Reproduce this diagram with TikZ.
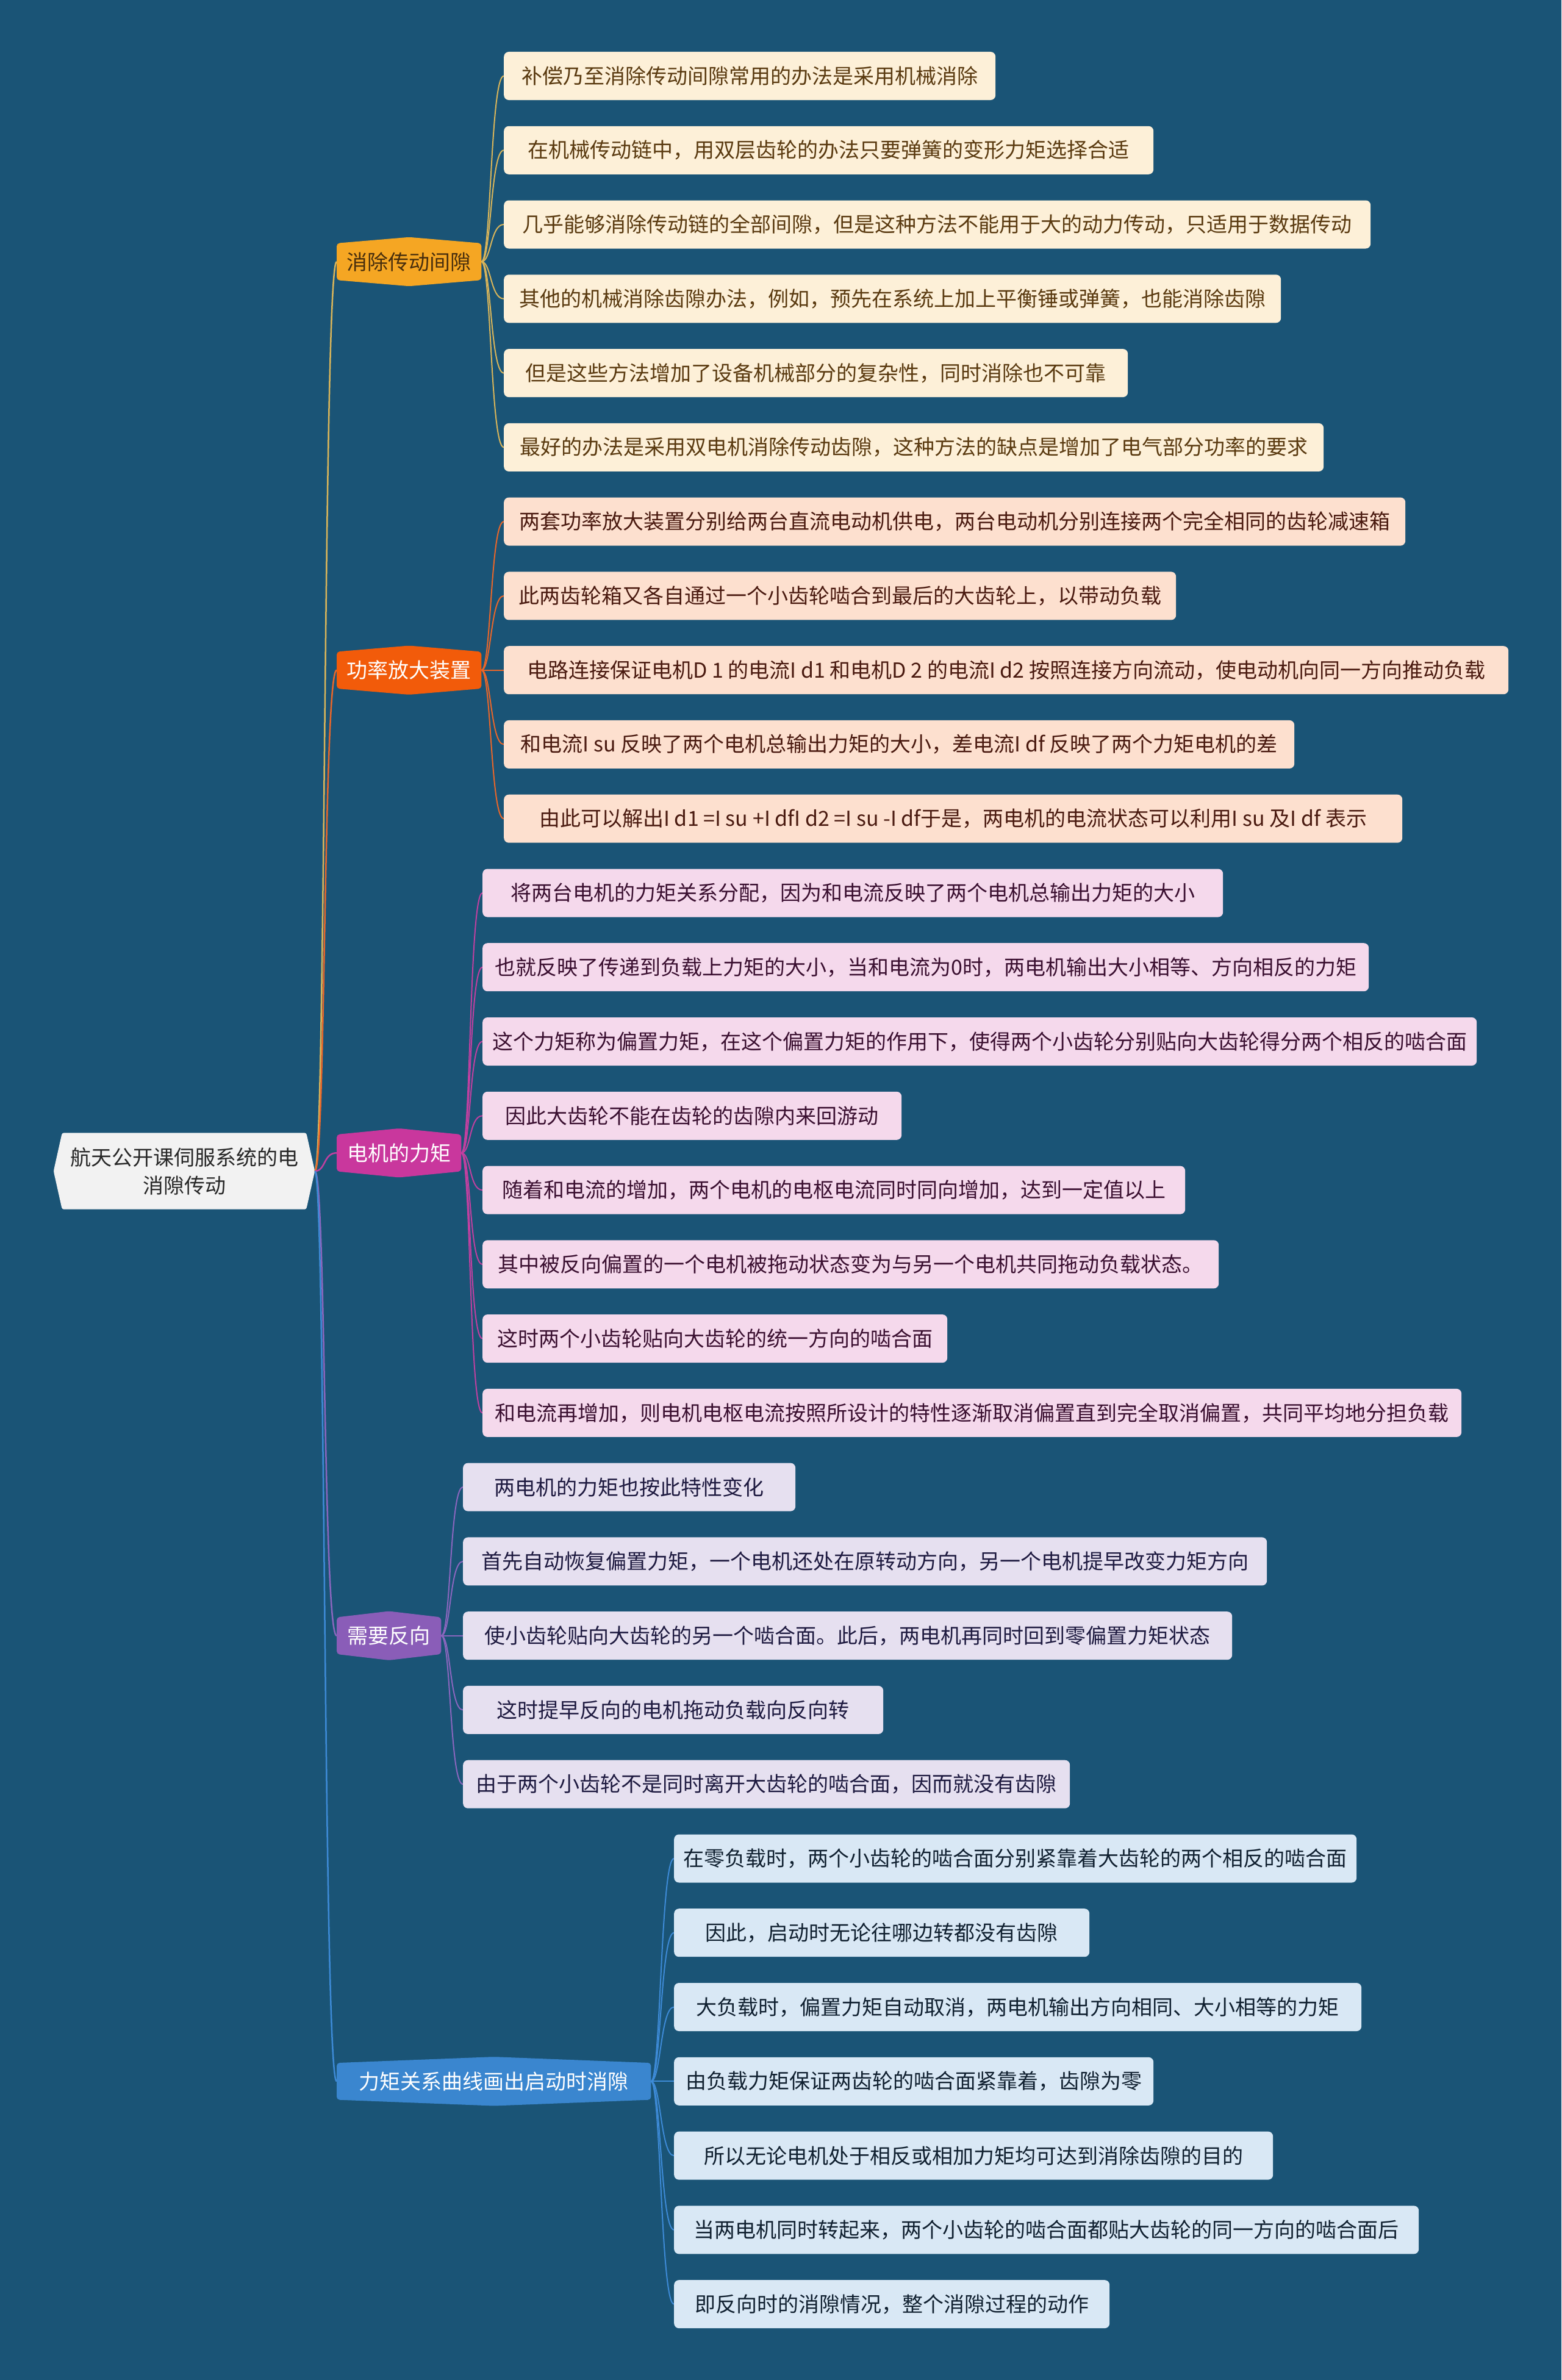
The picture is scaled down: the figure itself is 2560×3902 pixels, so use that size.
\documentclass[tikz,border=0pt]{standalone}
\usepackage{fontspec}
\setmainfont{Noto Sans CJK SC}
\usetikzlibrary{backgrounds}
\definecolor{bgc}{HTML}{1A5476}
\definecolor{rootc}{HTML}{F2F2F2}
\definecolor{bA}{HTML}{F5A623}
\definecolor{bB}{HTML}{F25B0A}
\definecolor{bC}{HTML}{C9379D}
\definecolor{bD}{HTML}{8A5DB8}
\definecolor{bE}{HTML}{3A86CF}
\definecolor{lA}{HTML}{FDF0D8}
\definecolor{lB}{HTML}{FDE0CF}
\definecolor{lC}{HTML}{F5D9EC}
\definecolor{lD}{HTML}{E6E0F0}
\definecolor{lE}{HTML}{D9E8F5}
\definecolor{tA}{HTML}{5A3A10}
\definecolor{tB}{HTML}{4A1A10}
\definecolor{tC}{HTML}{3A0F30}
\definecolor{tD}{HTML}{1E1A40}
\definecolor{tE}{HTML}{102030}
\definecolor{cA}{HTML}{D9B55A}
\definecolor{cB}{HTML}{E8662A}
\definecolor{cC}{HTML}{C040A0}
\definecolor{cD}{HTML}{8A66BE}
\definecolor{cE}{HTML}{3D8AD6}
\newcommand\bigtxt{\fontsize{34pt}{46pt}\selectfont}
\newcommand\hexvert[2]{%
  \fill[#2, rounded corners=5pt] (#1.north west) -- ([yshift=10pt]#1.north) -- (#1.north east) -- (#1.south east) -- ([yshift=-10pt]#1.south) -- (#1.south west) -- cycle;}
\tikzset{
  leaf/.style={rectangle, rounded corners=8pt, anchor=west, minimum height=79pt, inner xsep=8pt, inner ysep=0pt, font=\bigtxt},
  leafA/.style={leaf, fill=lA, text=tA},
  leafB/.style={leaf, fill=lB, text=tB},
  leafC/.style={leaf, fill=lC, text=tC},
  leafD/.style={leaf, fill=lD, text=tD},
  leafE/.style={leaf, fill=lE, text=tE},
  branchnode/.style={rectangle, anchor=west, minimum height=60pt, inner sep=0pt, font=\bigtxt, text=white},
  lnA/.style={draw=cA, line width=2pt},
  lnB/.style={draw=cB, line width=2pt},
  lnC/.style={draw=cC, line width=2pt},
  lnD/.style={draw=cD, line width=2pt},
  lnE/.style={draw=cE, line width=2pt},
}
\begin{document}
\begin{tikzpicture}[x=1pt, y=-1pt]
\useasboundingbox (0,0) rectangle (2560,3902);
\begin{pgfonlayer}{background}
\fill[bgc] (0,0) rectangle (2560,3902);
\end{pgfonlayer}

% root
\node[rectangle, minimum width=428pt, minimum height=125pt, inner sep=0pt, align=center, font=\bigtxt, text={rgb,255:red,40;green,40;blue,40}] (root) at (302,1920) {航天公开课伺服系统的电\\消隙传动};

% branches
\node[branchnode, minimum width=237pt, text=tA!80!black] (b1) at (552,429) {消除传动间隙};
\node[branchnode, minimum width=237pt] (b2) at (552,1098.7) {功率放大装置};
\node[branchnode, minimum width=204pt] (b3) at (552,1890.2) {电机的力矩};
\node[branchnode, minimum width=171pt] (b4) at (552,2681.7) {需要反向};
\node[branchnode, minimum width=515pt] (b5) at (552,3412.3) {力矩关系曲线画出启动时消隙};

% leaves of branch 1
\node[leafA, minimum width=806pt] (l0) at (826,124.5) {补偿乃至消除传动间隙常用的办法是采用机械消除};
\node[leafA, minimum width=1065pt] (l1) at (826,246.3) {在机械传动链中，用双层齿轮的办法只要弹簧的变形力矩选择合适};
\node[leafA, minimum width=1421pt] (l2) at (826,368.0) {几乎能够消除传动链的全部间隙，但是这种方法不能用于大的动力传动，只适用于数据传动};
\node[leafA, minimum width=1274pt] (l3) at (826,489.8) {其他的机械消除齿隙办法，例如，预先在系统上加上平衡锤或弹簧，也能消除齿隙};
\node[leafA, minimum width=1023pt] (l4) at (826,611.6) {但是这些方法增加了设备机械部分的复杂性，同时消除也不可靠};
\node[leafA, minimum width=1344pt] (l5) at (826,733.4) {最好的办法是采用双电机消除传动齿隙，这种方法的缺点是增加了电气部分功率的要求};

% leaves of branch 2
\node[leafB, minimum width=1478pt] (l6) at (826,855.1) {两套功率放大装置分别给两台直流电动机供电，两台电动机分别连接两个完全相同的齿轮减速箱};
\node[leafB, minimum width=1102pt] (l7) at (826,976.9) {此两齿轮箱又各自通过一个小齿轮啮合到最后的大齿轮上，以带动负载};
\node[leafB, minimum width=1647pt] (l8) at (826,1098.7) {电路连接保证电机D 1 的电流I d1 和电机D 2 的电流I d2 按照连接方向流动，使电动机向同一方向推动负载};
\node[leafB, minimum width=1296pt] (l9) at (826,1220.4) {和电流I su 反映了两个电机总输出力矩的大小，差电流I df 反映了两个力矩电机的差};
\node[leafB, minimum width=1473pt] (l10) at (826,1342.2) {由此可以解出I d1 =I su +I dfI d2 =I su -I df于是，两电机的电流状态可以利用I su 及I df 表示};

% leaves of branch 3
\node[leafC, minimum width=1214pt] (l11) at (791,1464.0) {将两台电机的力矩关系分配，因为和电流反映了两个电机总输出力矩的大小};
\node[leafC, minimum width=1453pt] (l12) at (791,1585.7) {也就反映了传递到负载上力矩的大小，当和电流为0时，两电机输出大小相等、方向相反的力矩};
\node[leafC, minimum width=1630pt] (l13) at (791,1707.5) {这个力矩称为偏置力矩，在这个偏置力矩的作用下，使得两个小齿轮分别贴向大齿轮得分两个相反的啮合面};
\node[leafC, minimum width=687pt] (l14) at (791,1829.3) {因此大齿轮不能在齿轮的齿隙内来回游动};
\node[leafC, minimum width=1152pt] (l15) at (791,1951.1) {随着和电流的增加，两个电机的电枢电流同时同向增加，达到一定值以上};
\node[leafC, minimum width=1207pt] (l16) at (791,2072.8) {其中被反向偏置的一个电机被拖动状态变为与另一个电机共同拖动负载状态。};
\node[leafC, minimum width=762pt] (l17) at (791,2194.6) {这时两个小齿轮贴向大齿轮的统一方向的啮合面};
\node[leafC, minimum width=1605pt] (l18) at (791,2316.4) {和电流再增加，则电机电枢电流按照所设计的特性逐渐取消偏置直到完全取消偏置，共同平均地分担负载};

% leaves of branch 4
\node[leafD, minimum width=545pt] (l19) at (759,2438.1) {两电机的力矩也按此特性变化};
\node[leafD, minimum width=1318pt] (l20) at (759,2559.9) {首先自动恢复偏置力矩，一个电机还处在原转动方向，另一个电机提早改变力矩方向};
\node[leafD, minimum width=1261pt] (l21) at (759,2681.7) {使小齿轮贴向大齿轮的另一个啮合面。此后，两电机再同时回到零偏置力矩状态};
\node[leafD, minimum width=689pt] (l22) at (759,2803.4) {这时提早反向的电机拖动负载向反向转};
\node[leafD, minimum width=995pt] (l23) at (759,2925.2) {由于两个小齿轮不是同时离开大齿轮的啮合面，因而就没有齿隙};

% leaves of branch 5
\node[leafE, minimum width=1119pt] (l24) at (1105,3047.0) {在零负载时，两个小齿轮的啮合面分别紧靠着大齿轮的两个相反的啮合面};
\node[leafE, minimum width=681pt] (l25) at (1105,3168.7) {因此，启动时无论往哪边转都没有齿隙};
\node[leafE, minimum width=1127pt] (l26) at (1105,3290.5) {大负载时，偏置力矩自动取消，两电机输出方向相同、大小相等的力矩};
\node[leafE, minimum width=786pt] (l27) at (1105,3412.3) {由负载力矩保证两齿轮的啮合面紧靠着，齿隙为零};
\node[leafE, minimum width=982pt] (l28) at (1105,3534.1) {所以无论电机处于相反或相加力矩均可达到消除齿隙的目的};
\node[leafE, minimum width=1221pt] (l29) at (1105,3655.8) {当两电机同时转起来，两个小齿轮的啮合面都贴大齿轮的同一方向的啮合面后};
\node[leafE, minimum width=714pt] (l30) at (1105,3777.6) {即反向时的消隙情况，整个消隙过程的动作};

% shapes on background layer
\begin{pgfonlayer}{background}
\fill[rootc, rounded corners=3pt] ([xshift=14pt]root.north west) -- ([xshift=-14pt]root.north east) -- (root.east) -- ([xshift=-14pt]root.south east) -- ([xshift=14pt]root.south west) -- (root.west) -- cycle;
\hexvert{b1}{bA}
\hexvert{b2}{bB}
\hexvert{b3}{bC}
\hexvert{b4}{bD}
\hexvert{b5}{bE}
% root to branches
\draw[lnA, line width=2.5pt] (root.east) .. controls +(18pt,0pt) and +(-22pt,0pt) .. (b1.west);
\draw[lnB, line width=2.5pt] (root.east) .. controls +(18pt,0pt) and +(-22pt,0pt) .. (b2.west);
\draw[lnC, line width=2.5pt] (root.east) .. controls +(18pt,0pt) and +(-22pt,0pt) .. (b3.west);
\draw[lnD, line width=2.5pt] (root.east) .. controls +(18pt,0pt) and +(-22pt,0pt) .. (b4.west);
\draw[lnE, line width=2.5pt] (root.east) .. controls +(18pt,0pt) and +(-22pt,0pt) .. (b5.west);
% branch 1
\foreach \i in {0,...,5}{\draw[lnA] (b1.east) .. controls +(16pt,0pt) and +(-22pt,0pt) .. (l\i.west);}
\foreach \i in {6,...,10}{\draw[lnB] (b2.east) .. controls +(16pt,0pt) and +(-22pt,0pt) .. (l\i.west);}
\foreach \i in {11,...,18}{\draw[lnC] (b3.east) .. controls +(16pt,0pt) and +(-22pt,0pt) .. (l\i.west);}
\foreach \i in {19,...,23}{\draw[lnD] (b4.east) .. controls +(16pt,0pt) and +(-22pt,0pt) .. (l\i.west);}
\foreach \i in {24,...,30}{\draw[lnE] (b5.east) .. controls +(16pt,0pt) and +(-22pt,0pt) .. (l\i.west);}
\end{pgfonlayer}
\end{tikzpicture}
\end{document}
